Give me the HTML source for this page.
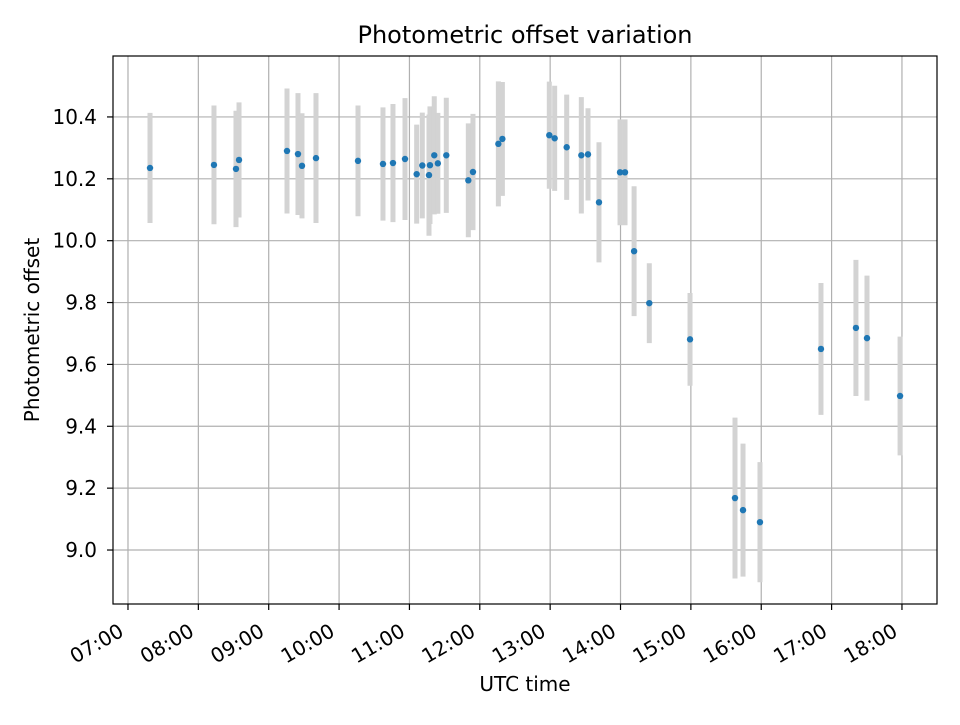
<!DOCTYPE html>
<html><head><meta charset="utf-8"><style>
body{margin:0;background:#fff;}
svg text{font-family:"DejaVu Sans","Liberation Sans",sans-serif;fill:#000;}
</style></head><body>
<svg id="chart" width="960" height="720" xmlns="http://www.w3.org/2000/svg">
<rect width="960" height="720" fill="#fff"/>
<text x="525" y="43" font-size="24" text-anchor="middle">Photometric offset variation</text>
<text x="525" y="691" font-size="20" text-anchor="middle">UTC time</text>
<text x="0" y="0" font-size="20" text-anchor="middle" transform="translate(39,330) rotate(-90)">Photometric offset</text>
<g id="grid"></g>
<g id="errs"></g>
<g id="pts"></g>
<rect x="113" y="56" width="824" height="548" fill="none" stroke="#000" stroke-width="1.2"/>
<g id="ticks"></g>
</svg>
<script>
const times=[7.313,8.222,8.535,8.578,9.26,9.416,9.473,9.672,10.269,10.624,10.766,10.937,11.103,11.183,11.278,11.292,11.353,11.404,11.524,11.837,11.903,12.264,12.321,12.988,13.064,13.235,13.443,13.538,13.694,13.993,14.064,14.193,14.409,14.988,15.627,15.741,15.982,16.849,17.346,17.503,17.973];
const offsets=[10.235,10.245,10.232,10.261,10.290,10.280,10.242,10.267,10.258,10.248,10.251,10.264,10.215,10.243,10.212,10.244,10.276,10.250,10.276,10.195,10.222,10.313,10.329,10.341,10.331,10.302,10.276,10.279,10.124,10.221,10.221,9.966,9.798,9.681,9.168,9.129,9.090,9.650,9.718,9.685,9.498];
const errors=[0.178,0.192,0.188,0.186,0.202,0.197,0.170,0.210,0.179,0.183,0.191,0.197,0.160,0.171,0.196,0.19,0.191,0.163,0.186,0.184,0.188,0.202,0.184,0.173,0.170,0.170,0.188,0.149,0.194,0.171,0.171,0.210,0.129,0.150,0.260,0.215,0.194,0.213,0.220,0.202,0.192];
const xTicks=[7,8,9,10,11,12,13,14,15,16,17,18];
const xTickLabels=["07:00","08:00","09:00","10:00","11:00","12:00","13:00","14:00","15:00","16:00","17:00","18:00"];
const yTicks=[9.0,9.2,9.4,9.6,9.8,10.0,10.2,10.4];
const yTickLabels=["9.0","9.2","9.4","9.6","9.8","10.0","10.2","10.4"];
const X0=113,X1=937,Y0=56,Y1=604,tMin=6.787,tMax=18.498,vMin=8.8255,vMax=10.597;
const xs=t=>X0+(t-tMin)/(tMax-tMin)*(X1-X0);
const ys=v=>Y1-(v-vMin)/(vMax-vMin)*(Y1-Y0);
const NS="http://www.w3.org/2000/svg";
function mk(tag,attrs,parent){const e=document.createElementNS(NS,tag);for(const k in attrs)e.setAttribute(k,attrs[k]);parent.appendChild(e);return e;}
const grid=document.getElementById('grid'),ticks=document.getElementById('ticks'),errs=document.getElementById('errs'),pts=document.getElementById('pts');
xTicks.forEach((t,i)=>{const x=xs(t);
 let l=mk('line',{x1:x,x2:x,y1:Y0,y2:Y1,stroke:'#b0b0b0','stroke-width':1.2},grid);
 
 
 let tk=mk('line',{x1:x,x2:x,y1:Y1,y2:Y1+6,stroke:'#000','stroke-width':1.2},ticks);
 
 
 let tx=mk('text',{x:0,y:0,'font-size':20,'text-anchor':'end',transform:`translate(${x-3},${Y1+31}) rotate(-30)`},ticks);
 tx.textContent=xTickLabels[i];
 
 
});
yTicks.forEach((v,i)=>{const y=ys(v);
 let l=mk('line',{x1:X0,x2:X1,y1:y,y2:y,stroke:'#b0b0b0','stroke-width':1.2},grid);
 
 
 let tk=mk('line',{x1:X0-6,x2:X0,y1:y,y2:y,stroke:'#000','stroke-width':1.2},ticks);
 
 
 let tx=mk('text',{x:X0-16,y:y+7,'font-size':20,'text-anchor':'end'},ticks);
 tx.textContent=yTickLabels[i];
 
 
});
times.forEach((t,i)=>{const x=xs(t);
 let b=mk('line',{x1:x,x2:x,y1:ys(offsets[i]+errors[i]),y2:ys(offsets[i]-errors[i]),stroke:'#d3d3d3','stroke-width':5},errs);
 
 
});
times.forEach((t,i)=>{
 let c=mk('circle',{cx:xs(t),cy:ys(offsets[i]),r:3.2,fill:'#1f77b4'},pts);
 
 
});
</script>
</body></html>
